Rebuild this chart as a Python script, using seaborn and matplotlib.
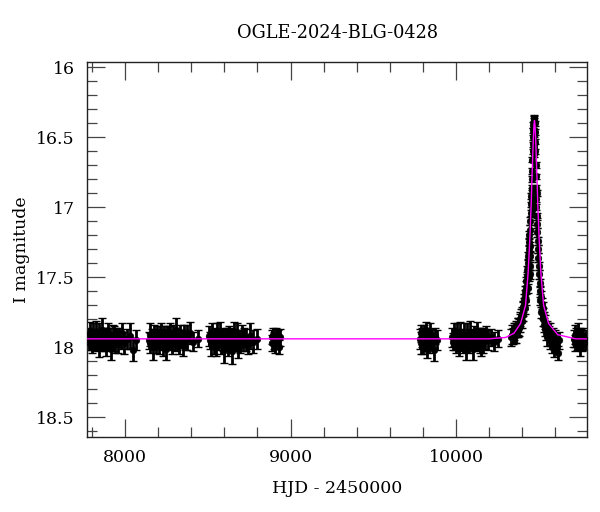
import matplotlib
matplotlib.use("Agg")
import matplotlib.pyplot as plt
from matplotlib.ticker import MultipleLocator, FormatStrFormatter
import numpy as np
import pandas as pd
import seaborn as sns

# ---- photometry (HJD-2450000, I mag, error) ----
s1_t = [7779, 7785, 7790, 7796, 7801, 7807, 7812, 7818, 7823, 7829,
        7834, 7840, 7845, 7851, 7856, 7862, 7867, 7873, 7878, 7884,
        7889, 7895, 7900, 7906, 7911, 7917, 7922, 7928, 7934, 7941,
        7948, 7956, 7964, 7973, 7983, 7995, 8010, 8028, 8047, 8066]
s1_m = [17.93, 17.96, 17.90, 17.95, 17.98, 17.92, 17.94, 17.97, 17.89, 17.95,
        17.93, 18.00, 17.91, 17.96, 17.94, 17.88, 17.97, 17.93, 17.95, 17.99,
        17.92, 17.94, 17.90, 17.96, 17.93, 18.01, 17.95, 17.91, 17.94, 17.97,
        17.92, 17.96, 17.93, 17.95, 17.90, 17.97, 17.94, 17.92, 18.02, 17.95]
s1_e = [0.07, 0.06, 0.08, 0.07, 0.06, 0.09, 0.07, 0.06, 0.08, 0.07,
        0.06, 0.07, 0.08, 0.06, 0.07, 0.09, 0.06, 0.07, 0.08, 0.07,
        0.06, 0.08, 0.07, 0.06, 0.07, 0.08, 0.06, 0.07, 0.09, 0.07,
        0.06, 0.08, 0.07, 0.06, 0.07, 0.08, 0.07, 0.09, 0.08, 0.07]

s2_t = [8142, 8148, 8153, 8160, 8166, 8172, 8178, 8185, 8191, 8197,
        8203, 8210, 8216, 8222, 8228, 8235, 8241, 8247, 8253, 8260,
        8266, 8272, 8278, 8285, 8291, 8297, 8303, 8310, 8316, 8322,
        8328, 8335, 8342, 8350, 8358, 8367, 8377, 8392, 8410, 8438]
s2_m = [17.95, 17.91, 17.97, 17.93, 18.00, 17.94, 17.90, 17.96, 17.92, 17.95,
        17.98, 17.93, 17.89, 17.95, 17.97, 17.91, 17.94, 18.01, 17.92, 17.96,
        17.93, 17.90, 17.95, 17.98, 17.92, 17.94, 17.96, 17.88, 17.95, 17.93,
        17.97, 17.91, 17.94, 17.99, 17.92, 17.95, 17.93, 17.90, 17.96, 17.94]
s2_e = [0.06, 0.08, 0.07, 0.06, 0.09, 0.07, 0.06, 0.08, 0.07, 0.06,
        0.07, 0.08, 0.06, 0.07, 0.09, 0.06, 0.07, 0.08, 0.07, 0.06,
        0.08, 0.07, 0.06, 0.07, 0.08, 0.06, 0.07, 0.09, 0.07, 0.06,
        0.08, 0.07, 0.06, 0.07, 0.08, 0.07, 0.09, 0.08, 0.07, 0.06]

s3_t = [8510, 8516, 8521, 8527, 8533, 8539, 8545, 8551, 8557, 8563,
        8569, 8575, 8581, 8587, 8593, 8599, 8605, 8611, 8617, 8623,
        8629, 8635, 8641, 8647, 8653, 8659, 8665, 8671, 8677, 8683,
        8690, 8697, 8704, 8712, 8721, 8731, 8743, 8758, 8776, 8800]
s3_m = [17.92, 17.95, 17.98, 17.90, 17.94, 17.96, 17.93, 18.00, 17.91, 17.95,
        17.94, 17.89, 17.97, 17.93, 17.96, 18.02, 17.92, 17.95, 17.94, 17.99,
        17.91, 17.96, 17.93, 18.03, 17.94, 17.90, 17.97, 17.95, 17.92, 18.01,
        17.94, 17.96, 17.91, 17.97, 17.93, 17.95, 17.98, 17.92, 17.96, 17.94]
s3_e = [0.07, 0.06, 0.08, 0.07, 0.06, 0.09, 0.07, 0.06, 0.08, 0.07,
        0.06, 0.07, 0.08, 0.06, 0.07, 0.09, 0.06, 0.07, 0.08, 0.07,
        0.06, 0.08, 0.07, 0.09, 0.07, 0.08, 0.06, 0.07, 0.09, 0.07,
        0.06, 0.08, 0.07, 0.06, 0.07, 0.08, 0.07, 0.09, 0.08, 0.07]

s4_t = [8886, 8891, 8897, 8902, 8908, 8914, 8920, 8926, 8932, 8938]
s4_m = [17.93, 17.97, 17.91, 17.95, 17.99, 17.92, 17.96, 17.94, 18.00, 17.93]
s4_e = [0.05, 0.06, 0.05, 0.06, 0.05, 0.06, 0.05, 0.06, 0.05, 0.06]

s5_t = [9781, 9786, 9791, 9796, 9801, 9806, 9811, 9816, 9821, 9826,
        9831, 9837, 9843, 9850, 9857, 9865, 9874, 9884]
s5_m = [17.94, 17.90, 17.97, 17.93, 17.99, 17.92, 17.96, 17.88, 17.95, 18.01,
        17.93, 17.97, 17.91, 17.96, 17.94, 18.02, 17.92, 17.95]
s5_e = [0.07, 0.06, 0.08, 0.07, 0.06, 0.08, 0.07, 0.06, 0.08, 0.07,
        0.06, 0.07, 0.08, 0.06, 0.07, 0.08, 0.06, 0.07]

s6_t = [9975, 9981, 9987, 9993, 9999, 10005, 10011, 10017, 10023, 10029,
        10035, 10041, 10047, 10053, 10059, 10065, 10071, 10077, 10083, 10089,
        10095, 10101, 10107, 10113, 10119, 10125, 10131, 10137, 10143, 10150,
        10157, 10165, 10174, 10184, 10196, 10212, 10232, 10254]
s6_m = [17.93, 17.96, 17.91, 17.95, 17.98, 17.92, 17.94, 18.00, 17.90, 17.96,
        17.93, 17.97, 17.91, 17.95, 18.02, 17.92, 17.94, 17.97, 17.89, 17.95,
        17.93, 18.01, 17.92, 17.96, 17.94, 17.90, 17.97, 17.93, 17.95, 17.99,
        17.92, 17.96, 17.94, 17.91, 17.95, 17.93, 17.96, 17.94]
s6_e = [0.07, 0.06, 0.08, 0.07, 0.06, 0.09, 0.07, 0.06, 0.08, 0.07,
        0.06, 0.07, 0.08, 0.06, 0.07, 0.09, 0.06, 0.07, 0.08, 0.07,
        0.06, 0.08, 0.07, 0.06, 0.07, 0.08, 0.06, 0.07, 0.09, 0.07,
        0.06, 0.08, 0.07, 0.06, 0.07, 0.06, 0.07, 0.06]

# 2024 season with the event
s7_t = [10330, 10337, 10344, 10350, 10356, 10362, 10367, 10372, 10377, 10381,
        10385, 10389, 10393, 10397, 10400, 10403, 10406, 10409, 10412, 10415,
        10418, 10421, 10424, 10427, 10430, 10433, 10436, 10439, 10441, 10443,
        10444, 10444, 10445, 10445, 10446, 10448, 10450, 10452, 10454, 10456,
        10458, 10459, 10460, 10460, 10461, 10462, 10464, 10465, 10466, 10467,
        10468, 10469, 10470, 10470, 10471, 10472, 10474, 10476, 10478, 10479,
        10480, 10481, 10482, 10483, 10484, 10486, 10488, 10490, 10491, 10492,
        10494, 10496, 10498, 10500, 10503, 10506, 10510, 10514, 10518, 10523,
        10528, 10534, 10540, 10547, 10554, 10561, 10568, 10575, 10583, 10590,
        10598, 10607, 10615, 10620,
        10360, 10375, 10388, 10398, 10407, 10416, 10425, 10432, 10438, 10442,
        10508, 10516, 10525, 10531, 10537, 10545, 10552, 10565, 10579, 10594]
s7_m = [17.93, 17.91, 17.92, 17.89, 17.90, 17.87, 17.88, 17.85, 17.84, 17.86,
        17.81, 17.80, 17.78, 17.76, 17.77, 17.73, 17.71, 17.69, 17.66, 17.63,
        17.60, 17.57, 17.53, 17.49, 17.45, 17.40, 17.35, 17.30, 17.25, 17.20,
        17.28, 17.35, 17.42, 17.48, 17.16, 17.10, 17.04, 16.98, 16.92, 16.86,
        16.80, 16.74, 16.95, 17.02, 16.88, 16.66, 16.60, 16.55, 16.50, 16.45,
        16.41, 16.38, 16.48, 16.56, 16.62, 16.36, 16.37, 16.40, 16.46, 16.53,
        16.60, 16.70, 16.78, 16.86, 16.94, 17.00, 17.06, 17.12, 16.90, 17.18,
        17.24, 17.30, 17.36, 17.42, 17.48, 17.54, 17.60, 17.64, 17.69, 17.72,
        17.76, 17.80, 17.82, 17.86, 17.88, 17.90, 17.89, 17.93, 17.92, 17.96,
        17.94, 17.97, 18.04, 17.95,
        17.91, 17.88, 17.84, 17.81, 17.77, 17.72, 17.66, 17.58, 17.50, 17.42,
        17.66, 17.75, 17.80, 17.84, 17.87, 17.90, 17.93, 17.95, 17.98, 18.00]
s7_e = [0.06, 0.07, 0.06, 0.06, 0.07, 0.06, 0.05, 0.06, 0.05, 0.06,
        0.05, 0.05, 0.05, 0.05, 0.04, 0.05, 0.04, 0.04, 0.04, 0.04,
        0.04, 0.04, 0.03, 0.03, 0.03, 0.03, 0.03, 0.03, 0.03, 0.03,
        0.03, 0.03, 0.03, 0.03, 0.03, 0.03, 0.02, 0.02, 0.02, 0.02,
        0.02, 0.02, 0.02, 0.02, 0.02, 0.02, 0.02, 0.02, 0.02, 0.02,
        0.02, 0.02, 0.02, 0.02, 0.02, 0.02, 0.02, 0.02, 0.02, 0.02,
        0.02, 0.02, 0.02, 0.02, 0.02, 0.02, 0.02, 0.03, 0.02, 0.03,
        0.03, 0.03, 0.03, 0.03, 0.03, 0.03, 0.04, 0.04, 0.04, 0.04,
        0.04, 0.05, 0.05, 0.05, 0.05, 0.05, 0.06, 0.06, 0.06, 0.06,
        0.06, 0.07, 0.05, 0.06,
        0.06, 0.05, 0.05, 0.05, 0.04, 0.04, 0.04, 0.03, 0.03, 0.03,
        0.04, 0.04, 0.05, 0.05, 0.05, 0.05, 0.06, 0.06, 0.06, 0.07]

s8_t = [10711, 10716, 10721, 10726, 10731, 10736, 10741, 10746, 10751, 10757,
        10763, 10770, 10778, 10787]
s8_m = [17.94, 17.91, 17.97, 17.93, 17.96, 17.90, 17.95, 17.99, 17.92, 17.94,
        17.97, 17.93, 17.96, 17.95]
s8_e = [0.06, 0.07, 0.06, 0.07, 0.06, 0.07, 0.06, 0.07, 0.06, 0.07,
        0.06, 0.07, 0.06, 0.07]

# model curve
model_t = [7772, 10200, 10300, 10350, 10390, 10420, 10436, 10446, 10454, 10460,
           10467, 10471, 10474, 10477, 10481, 10488, 10494, 10502, 10512, 10529,
           10559, 10614, 10724, 10794]
model_m = [17.94, 17.94, 17.93, 17.90, 17.83, 17.70, 17.46, 17.22, 16.98, 16.75,
           16.51, 16.41, 16.38, 16.41, 16.51, 16.75, 16.98, 17.22, 17.46, 17.70,
           17.83, 17.91, 17.94, 17.94]

title = "OGLE-2024-BLG-0428"

df = pd.DataFrame({
    "hjd": s1_t + s2_t + s3_t + s4_t + s5_t + s6_t + s7_t + s8_t,
    "mag": s1_m + s2_m + s3_m + s4_m + s5_m + s6_m + s7_m + s8_m,
    "err": s1_e + s2_e + s3_e + s4_e + s5_e + s6_e + s7_e + s8_e,
})
model = pd.DataFrame({"hjd": model_t, "mag": model_m})

sns.set_style("ticks")
plt.rcParams["font.family"] = ["DejaVu Serif"]
plt.rcParams["text.color"] = "black"
plt.rcParams["axes.labelcolor"] = "black"

fig = plt.figure(figsize=(6.0, 5.12), dpi=100)
ax = fig.add_axes([0.1455, 0.1471, 0.8333, 0.7318])

ax.errorbar(df["hjd"], df["mag"], yerr=df["err"], fmt="none", ecolor="black",
            elinewidth=2.0, capsize=2.8, capthick=1.0, zorder=2)
sns.scatterplot(data=df, x="hjd", y="mag", color="black", s=22,
                edgecolor="black", linewidth=0.5, ax=ax, zorder=3)
sns.lineplot(data=model, x="hjd", y="mag", color="#ff00ff", lw=1.0,
             estimator=None, sort=False, ax=ax, zorder=4)

ax.set_xlim(7772, 10793)
ax.set_ylim(18.639, 15.962)

ax.xaxis.set_major_locator(MultipleLocator(1000))
ax.xaxis.set_minor_locator(MultipleLocator(200))
ax.yaxis.set_major_locator(MultipleLocator(0.5))
ax.yaxis.set_minor_locator(MultipleLocator(0.1))
ax.yaxis.set_major_formatter(FormatStrFormatter("%g"))

ax.tick_params(which="both", direction="in", top=True, right=True,
               color="#444444", labelcolor="black", width=0.9,
               labelsize=12.5, pad=9)
ax.tick_params(which="major", length=13)
ax.tick_params(which="minor", length=7)
for sp in ax.spines.values():
    sp.set_linewidth(1.0)
    sp.set_color("#222222")

ax.set_xlabel("HJD - 2450000", fontsize=12.5, labelpad=10)
ax.set_ylabel("I magnitude", fontsize=12.5, labelpad=4)
ax.set_title(title, fontsize=12.8, pad=17)

fig.savefig("out.png", dpi=100)
